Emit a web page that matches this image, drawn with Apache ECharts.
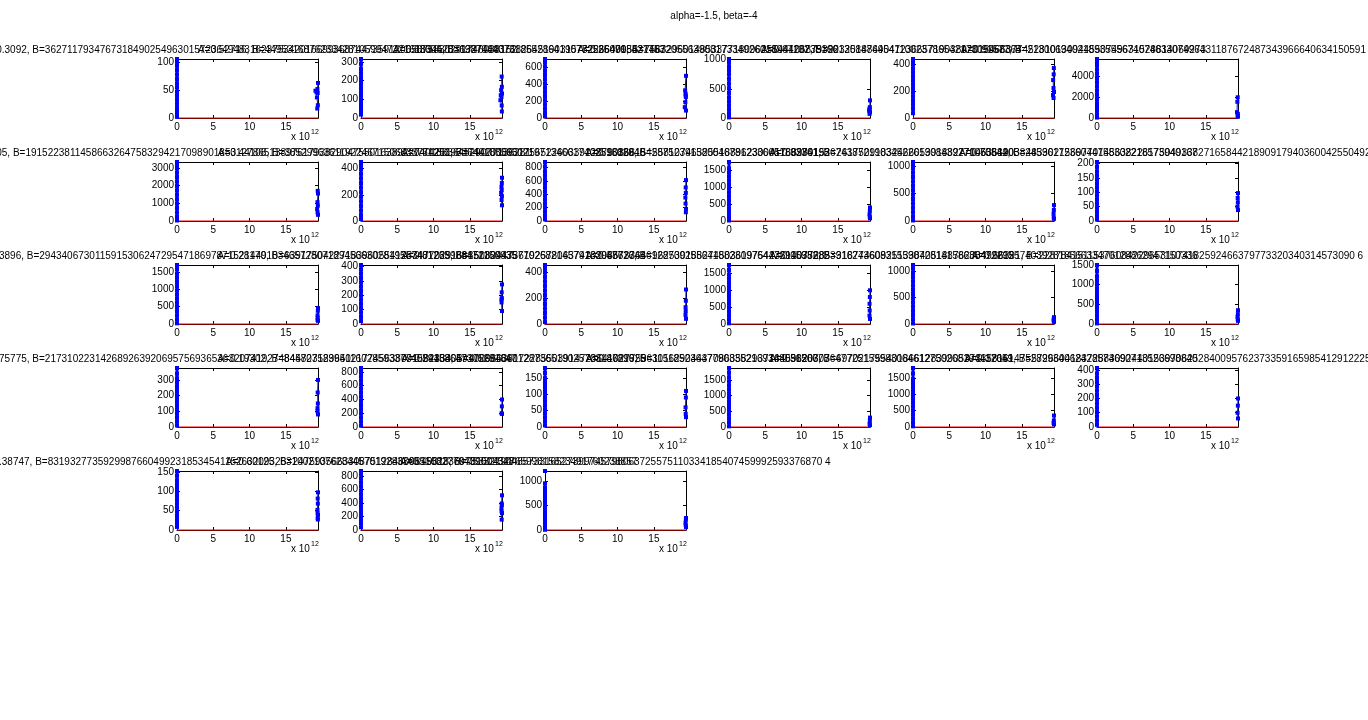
<!DOCTYPE html>
<html><head><meta charset="utf-8">
<script src="https://cdn.jsdelivr.net/npm/echarts@6/dist/echarts.min.js"></script>
<style>html,body{margin:0;padding:0;background:#fff}#c{width:1368px;height:720px}</style>
</head><body><div id="c"></div>
<script>
const suptitle = 'alpha=-1.5, beta=-4';
const titles = [
"A=10.3092, B=3627117934767318490254963015723649483162375342016699368744735912065875830291746038152",
"A=0.52716, B=449531687623342810599473216183452336987044073185528641907725360918427753",
"A=0.83604, B=13274803768264519031578226640955314872055639081733492601894420735166",
"A=0.25470, B=75632960148533771809625544106879322130847695411002378654217309958364",
"A=0.67132, B=90325188440472366571903892015466377452810130944550749631528814069273",
"A=0.91577, B=2130069402189355567407463307496431187672487343966640634150591 7",
"A=0.2305, B=1915223811458663264758329421709890185312786513897617938290475501638922740188364529077136281",
"A=0.44108, B=38529963611922467150683377420197364018856502197134661740259318846",
"A=0.61253, B=74420089317565226033912879036615428752391580046781233605188274193",
"A=0.16829, B=55810746325518896230041763980152674387219034522619084392710655820",
"A=0.93361, B=26175091832466053918827704536190382459617236044758302218573940167",
"A=0.70844, B=483302156977014563822617504933827165844218909179403600425504923",
"A=0.3896, B=29434067301159153062472954718697871521449103465728071894566302819557401263988472150935",
"A=0.28170, B=63917504227183960554128347702916685130943577026821457913305862741",
"A=0.81235, B=15082447361925780637410298573364612870925564188230976447291035682",
"A=0.47716, B=96253018827450361975423614077285391624360831559072814158630472295",
"A=0.05982, B=31877460925133840518876203499612574039281856633470128862947150336",
"A=0.66391, B=228784151153760842296531074182592466379773320340314573090 6",
"A=0.75775, B=2173102231426892639206957569365363207419274845827583941160285933774029158647305281647",
"A=0.19302, B=84470312965021774563809158233405917269486012873651902570314689925",
"A=0.54483, B=40096638172285503914728641027759630118523647790835216934805126673",
"A=0.87216, B=11562904437086358293716459820307647725159983064612750268194437051",
"A=0.36507, B=69702175540186612839905373358161475289934062428574690713526698840",
"A=0.12649, B=5726604183728830924401539706252840095762373359165985412912225",
"A=0.38747, B=831932773592998766049923185345411526320932631002107628445701928336551082776439012548",
"A=0.60125, B=24759356633087512846098155233697815043276599815823491760238857",
"A=0.49018, B=7533219048573316527399745798063725575110334185407459992593376870 4"
];
const yStep = [50,100,200,500,200,2000, 1000,200,200,500,500,50, 500,100,200,500,500,500, 100,200,50,500,500,100, 50,200,500];
const leftY = [
[2,7,13,19,26,33,40,47,55,62,70,78,86,94,101,106],
[18,30,45,62,80,98,118,138,158,178,198,218,240,262,290,316],
[20,60,110,160,210,260,310,360,410,460,510,560,610,660,700],
[10,70,140,210,280,350,430,510,590,670,750,820,880,950,1010],
[36,70,100,130,160,190,220,250,280,310,340,370,400,425,443],
[40,350,700,1050,1400,1800,2200,2600,3000,3400,3800,4200,4600,5000,5300,5600],
[30,230,480,730,980,1230,1480,1730,1980,2230,2480,2730,2980,3180,3330],
[15,45,80,115,150,185,220,255,290,325,360,395,425,450],
[25,80,140,200,260,320,380,440,500,560,620,680,740,810,880],
[15,120,240,360,480,600,720,840,960,1080,1200,1320,1440,1560,1750],
[10,80,160,240,320,400,480,560,640,720,800,880,960,1020,1073],
[5,18,32,46,60,74,88,102,116,130,144,158,172,188,205],
[20,130,250,370,490,610,730,850,970,1090,1210,1330,1450,1580,1700],
[20,50,80,110,140,170,200,230,260,290,320,350,380,410],
[15,50,85,120,155,190,225,260,295,330,365,400,430,457],
[20,140,260,380,500,620,740,860,980,1100,1220,1340,1460,1600,1750],
[10,90,170,250,330,410,490,570,650,730,810,890,970,1050,1120],
[15,110,210,310,410,510,610,710,810,910,1010,1110,1210,1350,1500],
[10,35,60,85,110,135,160,185,210,235,260,285,310,340,376],
[20,80,140,200,260,320,380,440,500,560,620,680,740,800,858],
[5,17,29,41,53,65,77,89,101,113,125,137,149,165,180],
[20,150,280,410,540,670,800,930,1060,1190,1320,1450,1580,1730,1880],
[20,140,260,380,500,620,740,860,980,1100,1220,1340,1460,1630,1800],
[15,45,75,105,135,165,195,225,255,285,315,345,375,414],
[8,18,28,38,48,58,68,78,88,98,108,118,128,140,152],
[40,100,160,220,280,340,400,460,520,580,640,700,760,820,871],
[5,70,140,210,280,350,420,490,560,630,700,770,840,870,960,null,1213]
];
const rightX = [
[19.40,19.32,19.05,19.20,19.36,19.25,19.38,19.30],
[19.38,19.40,19.30,19.42,19.25,19.35,19.20,19.38,19.40],
[19.42,19.30,19.36,19.38,19.40,19.33,19.25,19.42],
[19.42,19.40,19.35,19.30,19.38,19.42,19.36],
[19.40,19.38,19.30,19.35,19.42,19.28,19.36],
[19.40,19.35,19.30,19.42,19.38,19.44],
[19.38,19.42,19.35,19.40,19.30,19.36,19.42],
[19.42,19.40,19.35,19.38,19.30,19.41,19.36,19.42],
[19.42,19.38,19.40,19.33,19.36,19.42,19.40],
[19.42,19.40,19.36,19.38,19.42],
[19.42,19.40,19.36,19.38,19.42],
[19.42,19.38,19.40,19.35,19.42],
[19.42,19.40,19.36,19.38,19.35,19.42],
[19.42,19.38,19.40,19.35,19.36,19.42],
[19.42,19.40,19.36,19.38,19.35,19.42],
[19.42,19.40,19.36,19.38,19.35,19.42],
[19.42,19.40,19.36,19.42],
[19.42,19.40,19.36,19.38,19.42],
[19.42,19.38,19.40,19.35,19.36,19.42],
[19.42,19.40,19.36,19.42],
[19.42,19.40,19.36,19.38,19.42],
[19.42,19.40,19.36,19.42],
[19.42,19.40,19.36,19.42],
[19.42,19.40,19.36,19.42],
[19.42,19.38,19.40,19.35,19.36,19.42,19.38,19.40],
[19.42,19.38,19.40,19.35,19.36,19.42,19.38],
[19.42,19.40,19.36,19.38,19.42]
];
const rightY = [
[63,52,49,46,45,37,23,17],
[222,167,149,131,122,113,95,67,35],
[500,328,288,268,248,188,128,88],
[302,186,157,128,116,99,70],
[375,328,285,225,195,172,150],
[1967,1540,557,393,230,130],
[1703,1548,1064,870,677,484,348],
[330,290,260,235,215,190,160,120],
[610,500,420,350,260,180,130],
[400,300,200,130,80],
[290,200,130,60,40],
[97,80,65,50,38],
[460,380,250,180,120,90],
[275,220,180,170,150,90],
[267,180,130,100,70,40],
[1000,800,600,400,250,150],
[130,100,70,40],
[350,250,180,120,80],
[300,220,150,120,100,80],
[400,300,200,190],
[110,90,60,40,30],
[300,200,100,60],
[350,200,120,80],
[200,150,100,60],
[97,81,68,52,43,39,31,27],
[512,392,368,320,273,249,153],
[247,213,147,100,60]
];
const xScale = 1e12;
const xTickStep = 5;

const FONT = 'Liberation Sans, Arial, sans-serif';
const gl = 177, gw = 141, gdx = 184, gt = 59, gh = 59, gdy = 103;
const option = {animation:false, backgroundColor:'#fff', grid:[], xAxis:[], yAxis:[], series:[], graphic:[]};
option.graphic.push({type:'text', x:714, y:16, style:{text:suptitle, font:'10px '+FONT, fill:'#000', align:'center', verticalAlign:'middle', textAlign:'center', textVerticalAlign:'middle'}});
const axisCommon = {
  type:'value', splitLine:{show:false},
  axisLine:{show:true, onZero:false, lineStyle:{color:'#000', width:1}},
  axisTick:{show:true, inside:true, length:3, lineStyle:{color:'#000'}}
};
for (let i = 0; i < titles.length; i++) {
  const r = Math.floor(i/6), c = i % 6;
  const left = gl + c*gdx, top = gt + r*gdy;
  const ys = leftY[i].filter(v => v !== null).concat(rightY[i]);
  const ymax = Math.max(...ys);
  const xmax = Math.max(...rightX[i]) * xScale;
  const step = yStep[i];
  option.grid.push({left, top, width:gw, height:gh, show:false});
  const xl = {...axisCommon, gridIndex:i, min:0, max:xmax, interval:xTickStep*xScale};
  option.xAxis.push({...xl, position:'bottom', axisLabel:{show:true, margin:4, fontSize:10, fontFamily:FONT, color:'#000', showMaxLabel:false,
    formatter: v => (Math.abs(v % (xTickStep*xScale)) < 1 ? String(Math.round(v / xScale)) : '')}});
  option.xAxis.push({...xl, position:'top', axisLabel:{show:false}});
  const yl = {...axisCommon, gridIndex:i, min:0, max:ymax, interval:step};
  option.yAxis.push({...yl, position:'left', axisLabel:{show:true, margin:3, fontSize:10, fontFamily:FONT, color:'#000', showMaxLabel:true,
    formatter: v => (v % step === 0 ? String(v) : '')}});
  option.yAxis.push({...yl, position:'right', axisLabel:{show:false}});
  option.series.push({type:'line', xAxisIndex:2*i, yAxisIndex:2*i, data:[[0,0],[xmax,0]], symbol:'none', clip:false,
    lineStyle:{color:'#ff0000', width:1}, silent:true, z:3});
  option.series.push({type:'line', xAxisIndex:2*i, yAxisIndex:2*i, data:leftY[i].map(v => [0, v]), connectNulls:false,
    symbol:'rect', symbolSize:4, clip:false, itemStyle:{color:'#0000ff'}, lineStyle:{color:'#0000ff', width:3}, silent:true, z:4});
  option.series.push({type:'line', xAxisIndex:2*i, yAxisIndex:2*i, data:rightX[i].map((x, k) => [x*xScale, rightY[i][k]]),
    symbol:'rect', symbolSize:4, clip:false, itemStyle:{color:'#0000ff'}, lineStyle:{color:'#0000ff', width:1}, silent:true, z:4});
  option.graphic.push({type:'text', x:left + gw/2, y:top - 9, z:10, style:{text:titles[i], font:'10px '+FONT, fill:'#000', align:'center', verticalAlign:'middle', textAlign:'center', textVerticalAlign:'middle'}});
  option.graphic.push({type:'text', x:left + gw - 27, y:top + gh + 19, style:{text:'x 10', font:'10px '+FONT, fill:'#000', align:'left', verticalAlign:'middle', textAlign:'left', textVerticalAlign:'middle'}});
  option.graphic.push({type:'text', x:left + gw - 7, y:top + gh + 14, style:{text:'12', font:'7px '+FONT, fill:'#000', align:'left', verticalAlign:'middle', textAlign:'left', textVerticalAlign:'middle'}});
}
const chart = echarts.init(document.getElementById('c'), null, {renderer:'canvas'});
chart.setOption(option);
</script>
</body></html>
